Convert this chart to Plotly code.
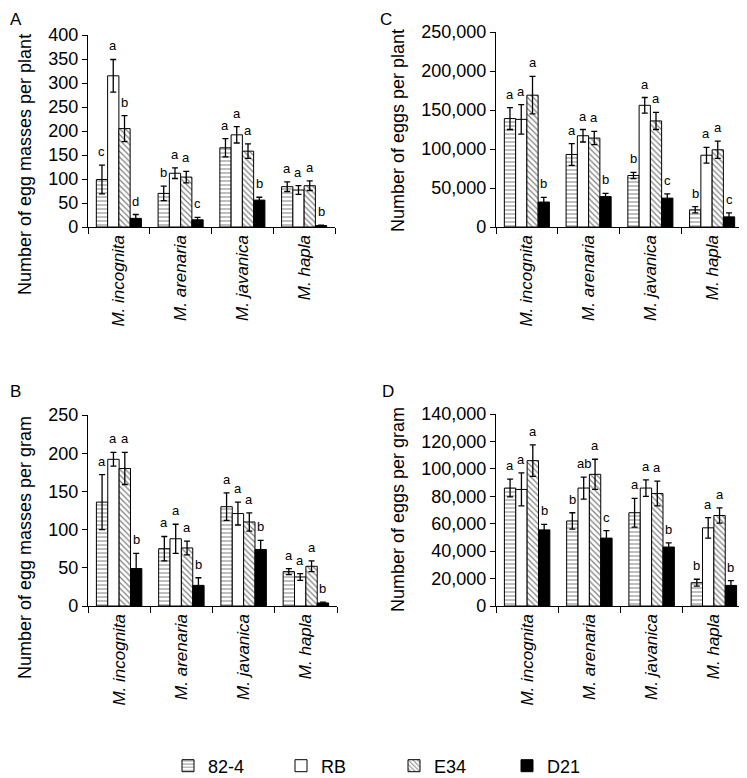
import plotly.graph_objects as go

species = ["M. incognita", "M. arenaria", "M. javanica", "M. hapla"]
cultivars = ["82-4", "RB", "E34", "D21"]

# Panel A: number of egg masses per plant
A_vals = {"82-4": [99, 70, 165, 84], "RB": [315, 112, 192, 77], "E34": [205, 104, 158, 86], "D21": [18, 15, 56, 3]}
A_err = {"82-4": [30, 15, 19, 10], "RB": [34, 11, 17, 9], "E34": [27, 12, 15, 10], "D21": [8, 5, 6, 1]}
A_let = {"82-4": ["c", "b", "a", "a"], "RB": ["a", "a", "a", "a"], "E34": ["b", "a", "a", "a"], "D21": ["d", "c", "b", "b"]}

# Panel C: number of eggs per plant
C_vals = {"82-4": [139000, 93000, 66000, 22000], "RB": [138000, 117000, 156000, 92000],
          "E34": [169000, 114000, 136000, 99000], "D21": [32000, 39000, 37000, 13000]}
C_err = {"82-4": [14000, 14000, 4000, 4000], "RB": [19000, 8000, 10000, 10000],
         "E34": [24000, 8500, 11000, 11000], "D21": [6000, 4000, 5500, 5000]}
C_let = {"82-4": ["a", "a", "b", "b"], "RB": ["a", "a", "a", "a"], "E34": ["a", "a", "a", "a"], "D21": ["b", "b", "c", "c"]}

# Panel B: number of egg masses per gram
B_vals = {"82-4": [136, 75, 130, 45], "RB": [192, 88, 121, 38], "E34": [180, 76, 110, 52], "D21": [49, 27, 74, 4]}
B_err = {"82-4": [36, 16, 18, 4], "RB": [9, 19, 15, 4.5], "E34": [21, 9, 12, 7], "D21": [20, 10, 12, 1]}
B_let = {"82-4": ["a", "a", "a", "a"], "RB": ["a", "a", "a", "a"], "E34": ["a", "a", "a", "a"], "D21": ["b", "b", "b", "b"]}

# Panel D: number of eggs per gram
D_vals = {"82-4": [86000, 62000, 68000, 17000], "RB": [85000, 86000, 86000, 57000],
          "E34": [106000, 96000, 82000, 66000], "D21": [55500, 49500, 43000, 15000]}
D_err = {"82-4": [6500, 6000, 10500, 2500], "RB": [12000, 8000, 6000, 7500],
         "E34": [11500, 11000, 9000, 5500], "D21": [4000, 5500, 3000, 3500]}
D_let = {"82-4": ["a", "b", "a", "b"], "RB": ["a", "ab", "a", "a"], "E34": ["a", "a", "a", "a"], "D21": ["b", "c", "b", "b"]}

FONT = "Arial, Liberation Sans, sans-serif"
OFF = 8  # page body margin
W, H = 747 - OFF, 778 - OFF


def px(x):
    return (x - OFF) / W


def py(y):
    return 1 - (y - OFF) / H


styles = {
    "82-4": dict(color="white", line=dict(color="black", width=1),
                 pattern=dict(shape="-", fgcolor="black", bgcolor="white", size=4, solidity=0.25)),
    "RB": dict(color="white", line=dict(color="black", width=1)),
    "E34": dict(color="white", line=dict(color="black", width=1),
                pattern=dict(shape="\\", fgcolor="black", bgcolor="white", size=4, solidity=0.3)),
    "D21": dict(color="black", line=dict(color="black", width=1)),
}

panels = [
    ("A", A_vals, A_err, A_let, "x", "y", (88, 335), (35, 227), 400, 50,
     "Number of egg masses per plant", (25, 165), (8, 8)),
    ("C", C_vals, C_err, C_let, "x2", "y2", (496, 743), (32, 227), 250000, 50000,
     "Number of eggs per plant", (398, 131), (378, 8)),
    ("B", B_vals, B_err, B_let, "x3", "y3", (88, 337), (415, 606), 250, 50,
     "Number of egg masses per gram", (25, 548), (8, 380)),
    ("D", D_vals, D_err, D_let, "x4", "y4", (496, 745), (414, 606), 140000, 20000,
     "Number of eggs per gram", (398, 510), (380, 380)),
]

fig = go.Figure()
annotations = []
bargap = 0.27
bw = (1 - bargap) / 4

for pi, (key, vals, err, lets, xa, ya, xpx, ypx, ymax, dtick, title, tpos, lpos) in enumerate(panels):
    for j, c in enumerate(cultivars):
        fig.add_trace(go.Bar(
            x=species, y=vals[c], name=c, xaxis=xa, yaxis=ya,
            marker=styles[c], legendgroup=c, showlegend=(pi == 0),
            error_y=dict(type="data", array=err[c], visible=True, color="black", thickness=1.3, width=3),
        ))
        for i in range(4):
            annotations.append(dict(
                x=i + (j - 1.5) * bw, y=vals[c][i] + err[c][i], xref=xa, yref=ya,
                text=lets[c][i], showarrow=False, yanchor="bottom", yshift=4,
                font=dict(family=FONT, size=13, color="black"),
            ))
    xd = [px(xpx[0]), px(xpx[1])]
    yd = [py(ypx[1]), py(ypx[0])]
    suffix = "" if xa == "x" else xa[1:]
    fig.layout["xaxis" + suffix] = dict(
        domain=xd, anchor=ya, type="category", range=[-0.5, 3.5],
        showline=True, linecolor="black", linewidth=1.3,
        ticks="outside", tickson="boundaries", ticklen=6, tickcolor="black", tickwidth=1.3,
        tickangle=-90, tickfont=dict(family=FONT, size=17, color="black", style="italic"),
        showgrid=False, zeroline=False, fixedrange=True, automargin=False,
    )
    fig.layout["yaxis" + suffix] = dict(
        domain=yd, anchor=xa, range=[0, ymax], dtick=dtick, tickformat=",",
        showline=True, linecolor="black", linewidth=1.3,
        ticks="outside", ticklen=5, tickcolor="black", tickwidth=1.3,
        tickfont=dict(family=FONT, size=18, color="black"),
        showgrid=False, zeroline=False, fixedrange=True, automargin=False,
    )
    annotations.append(dict(
        x=px(tpos[0]), y=py(tpos[1]), xref="paper", yref="paper", text=title,
        textangle=-90, showarrow=False, xanchor="center", yanchor="middle",
        font=dict(family=FONT, size=18, color="black"),
    ))
    annotations.append(dict(
        x=px(lpos[0]), y=py(lpos[1]), xref="paper", yref="paper", text=key,
        showarrow=False, xanchor="left", yanchor="top",
        font=dict(family=FONT, size=17, color="black"),
    ))

fig.update_layout(
    width=W, height=H, margin=dict(l=0, r=0, t=0, b=0, autoexpand=False),
    paper_bgcolor="white", plot_bgcolor="white",
    barmode="group", bargap=bargap, bargroupgap=0,
    annotations=annotations,
    showlegend=True,
    legend=dict(orientation="h", x=px(168), y=py(766), xanchor="left", yanchor="middle",
                entrywidth=68, entrywidthmode="pixels", traceorder="normal",
                font=dict(family=FONT, size=18, color="black")),
    font=dict(family=FONT, color="black"),
)

fig.write_html("out.html")
